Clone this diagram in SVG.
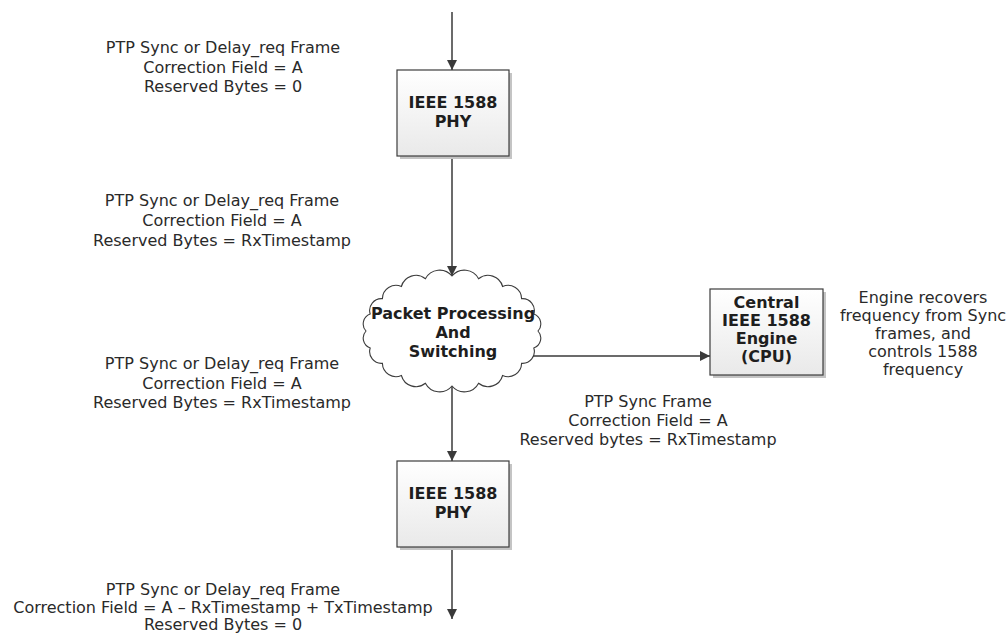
<svg xmlns="http://www.w3.org/2000/svg" width="1008" height="634" viewBox="0 0 1008 634">
  <defs>
    <linearGradient id="boxfill" x1="0" y1="0" x2="0" y2="1">
      <stop offset="0" stop-color="#ffffff"/>
      <stop offset="1" stop-color="#e9e9e9"/>
    </linearGradient>
    <marker id="ah" viewBox="0 0 10 10" refX="10" refY="5" markerWidth="10" markerHeight="10" markerUnits="userSpaceOnUse" orient="auto">
      <path d="M0,0 L10,5 L0,10 z" fill="#3a3a3a"/>
    </marker>
    <style>
      .lbl { font-family: "DejaVu Sans", Verdana, sans-serif; font-size: 16px; fill: #2a2a2a; text-anchor: middle; }
      .node { font-family: "DejaVu Sans", Verdana, sans-serif; font-size: 16px; font-weight: bold; fill: #1e1e1e; text-anchor: middle; }
      .box { fill: url(#boxfill); stroke: #3c3c3c; stroke-width: 1.2; }
      .shadow { fill: #c4c4c4; }
      .conn { stroke: #3a3a3a; stroke-width: 1.5; fill: none; marker-end: url(#ah); }
      .cloud { fill: #ffffff; stroke: #3c3c3c; stroke-width: 1.1; }
    </style>
  </defs>
  <rect width="1008" height="634" fill="#ffffff"/>

  <g id="connectors">
    <line class="conn" x1="452" y1="12" x2="452" y2="70"/>
    <line class="conn" x1="452" y1="156" x2="452" y2="276"/>
    <line class="conn" x1="452" y1="386" x2="452" y2="461"/>
    <line class="conn" x1="530" y1="356" x2="710" y2="356"/>
    <line class="conn" x1="452" y1="547" x2="452" y2="619"/>
  </g>

  <g id="phy-top">
    <rect class="shadow" x="400" y="73" width="112" height="86"/>
    <rect class="box" x="397" y="70" width="112" height="86"/>
    <text class="node" x="453" y="108">IEEE 1588</text>
    <text class="node" x="453" y="127">PHY</text>
  </g>

  <g id="cloud">
    <path class="cloud" d="M538,331 A10.5,10.5 0 0 1 533.8,348 A11.8,11.8 0 0 1 521.6,363.3 A13.6,13.6 0 0 1 502.6,375.5 A15.1,15.1 0 0 1 478.6,383.3 A16,16 0 0 1 452,386 A16,16 0 0 1 425.4,383.3 A15.1,15.1 0 0 1 401.4,375.5 A13.6,13.6 0 0 1 382.4,363.3 A11.8,11.8 0 0 1 370.2,348 A10.5,10.5 0 0 1 366,331 A10.5,10.5 0 0 1 370.2,314 A11.8,11.8 0 0 1 382.4,298.7 A13.6,13.6 0 0 1 401.4,286.5 A15.1,15.1 0 0 1 425.4,278.7 A16,16 0 0 1 452,276 A16,16 0 0 1 478.6,278.7 A15.1,15.1 0 0 1 502.6,286.5 A13.6,13.6 0 0 1 521.6,298.7 A11.8,11.8 0 0 1 533.8,314 A10.5,10.5 0 0 1 538,331 Z"/>
    <text class="node" x="453" y="319">Packet Processing</text>
    <text class="node" x="453" y="338">And</text>
    <text class="node" x="453" y="357">Switching</text>
  </g>

  <g id="central-engine">
    <rect class="shadow" x="713" y="292" width="113" height="86"/>
    <rect class="box" x="710" y="289" width="113" height="86"/>
    <text class="node" x="766.5" y="308">Central</text>
    <text class="node" x="766.5" y="326">IEEE 1588</text>
    <text class="node" x="766.5" y="344">Engine</text>
    <text class="node" x="766.5" y="362">(CPU)</text>
  </g>

  <g id="phy-bottom">
    <rect class="shadow" x="400" y="464" width="112" height="86"/>
    <rect class="box" x="397" y="461" width="112" height="86"/>
    <text class="node" x="453" y="499">IEEE 1588</text>
    <text class="node" x="453" y="518">PHY</text>
  </g>

  <g id="labels">
    <text class="lbl" x="223" y="53">PTP Sync or Delay_req Frame</text>
    <text class="lbl" x="223" y="72.5">Correction Field = A</text>
    <text class="lbl" x="223" y="92">Reserved Bytes = 0</text>

    <text class="lbl" x="222" y="206">PTP Sync or Delay_req Frame</text>
    <text class="lbl" x="222" y="226">Correction Field = A</text>
    <text class="lbl" x="222" y="246">Reserved Bytes = RxTimestamp</text>

    <text class="lbl" x="222" y="369">PTP Sync or Delay_req Frame</text>
    <text class="lbl" x="222" y="388.5">Correction Field = A</text>
    <text class="lbl" x="222" y="408">Reserved Bytes = RxTimestamp</text>

    <text class="lbl" x="648" y="407">PTP Sync Frame</text>
    <text class="lbl" x="648" y="426">Correction Field = A</text>
    <text class="lbl" x="648" y="445">Reserved bytes = RxTimestamp</text>

    <text class="lbl" x="923" y="303">Engine recovers</text>
    <text class="lbl" x="923" y="321">frequency from Sync</text>
    <text class="lbl" x="923" y="339">frames, and</text>
    <text class="lbl" x="923" y="357">controls 1588</text>
    <text class="lbl" x="923" y="375">frequency</text>

    <text class="lbl" x="223" y="595">PTP Sync or Delay_req Frame</text>
    <text class="lbl" x="223" y="612.5">Correction Field = A – RxTimestamp + TxTimestamp</text>
    <text class="lbl" x="223" y="630">Reserved Bytes = 0</text>
  </g>
</svg>
